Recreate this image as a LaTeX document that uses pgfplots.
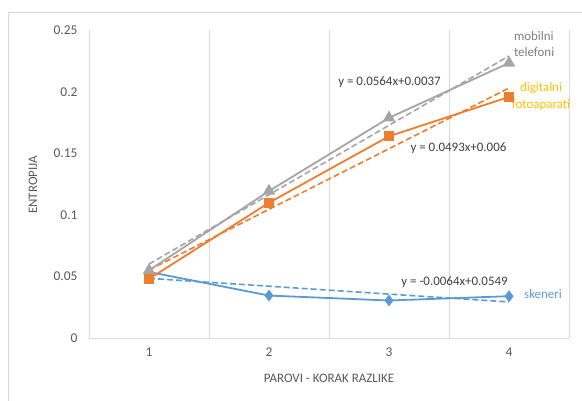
\documentclass[border=0pt]{standalone}
\usepackage{pgfplots}
\pgfplotsset{compat=1.18}
\usepackage{fontspec}
\setmainfont{Carlito}
\definecolor{cblue}{HTML}{5B9BD5}
\definecolor{corange}{HTML}{ED7D31}
\definecolor{cgray}{HTML}{A5A5A5}
\definecolor{cgold}{HTML}{FFC000}
\definecolor{ctick}{HTML}{595959}
\definecolor{ceq}{HTML}{404040}
\definecolor{cgrid}{HTML}{D9D9D9}
\begin{document}
\begin{tikzpicture}
\begin{axis}[
  scale only axis, width=480bp, height=307.5bp,
  xmin=0.5, xmax=4.5, ymin=0, ymax=0.25,
  xtick={1,2,3,4}, xticklabels={1,2,3,4},
  ytick={0,0.05,0.1,0.15,0.2,0.25},
  yticklabels={0,0.05,0.1,0.15,0.2,0.25},
  minor xtick={1.5,2.5,3.5,4.5},
  minor x grid style={cgrid, line width=0.8bp},
  xminorgrids=true,
  major tick length=0pt, minor tick length=0pt,
  axis x line*=bottom, axis y line*=left,
  axis line style={cgrid, line width=0.8bp, -},
  tick label style={font=\fontsize{13.5}{15}\selectfont, text=ctick},
  xticklabel style={yshift=-6bp},
  yticklabel style={xshift=-8bp},
  clip=false,
]
% trendlines
\addplot[cgray, dashed, line width=1.6bp, dash pattern=on 6bp off 3bp] coordinates {(1,0.0601) (2,0.1165) (3,0.1729) (4,0.2293)};
\addplot[corange, dashed, line width=1.6bp, dash pattern=on 6bp off 3bp] coordinates {(1,0.0553) (2,0.1046) (3,0.1539) (4,0.2032)};
\addplot[cblue, dashed, line width=1.6bp, dash pattern=on 6bp off 3bp] coordinates {(1,0.0485) (2,0.0421) (3,0.0357) (4,0.0293)};
% data
\addplot[cblue, line width=1.8bp, mark=diamond*, mark size=4.5bp, mark options={solid, fill=cblue}] coordinates {(1,0.0537) (2,0.0345) (3,0.0305) (4,0.0340)};
\addplot[cgray, line width=1.8bp, mark=triangle*, mark size=5.5bp, mark options={solid, fill=cgray}] coordinates {(1,0.0550) (2,0.1195) (3,0.1790) (4,0.2236)};
\addplot[corange, line width=1.8bp, mark=square*, mark size=4bp, mark options={solid, fill=corange}] coordinates {(1,0.0480) (2,0.1100) (3,0.1640) (4,0.1960)};
% labels
\node[font=\fontsize{13}{15}\selectfont, text=ceq] at (axis cs:3.004,0.208) {y = 0.0564x+0.0037};
\node[font=\fontsize{13}{15}\selectfont, text=ceq] at (axis cs:3.579,0.1545) {y = 0.0493x+0.006};
\node[font=\fontsize{13}{15}\selectfont, text=ceq] at (axis cs:3.546,0.0455) {y = -0.0064x+0.0549};
\node[font=\fontsize{13}{17}\selectfont, text=gray, align=left, anchor=west, inner sep=0pt] at (axis cs:4.04,0.239) {mobilni\\telefoni};
\node[font=\fontsize{13}{17}\selectfont, text=cgold, align=center, inner sep=0pt] at (axis cs:4.267,0.196) {digitalni\\fotoaparati};
\node[font=\fontsize{13}{15}\selectfont, text=cblue, anchor=west, inner sep=0pt] at (axis cs:4.125,0.0358) {skeneri};
\node[font=\fontsize{13}{15}\selectfont, text=ctick, rotate=90] at (axis cs:0.0333,0.1244) {ENTROPIJA};
\node[font=\fontsize{13}{15}\selectfont, text=ctick] at (axis cs:2.5,-0.0325) {PAROVI - KORAK RAZLIKE};
% border and bounding box
\draw[cgrid, line width=0.8bp] (axis cs:-0.175,-0.07) -- (axis cs:-0.175,0.265) -- (axis cs:4.8,0.265);
\coordinate (bl) at (axis cs:-0.2417,-0.05122);
\coordinate (tr) at (axis cs:4.6083,0.2748);
\end{axis}
\pgfresetboundingbox
\path[use as bounding box] (bl) rectangle (tr);
\end{tikzpicture}
\end{document}
